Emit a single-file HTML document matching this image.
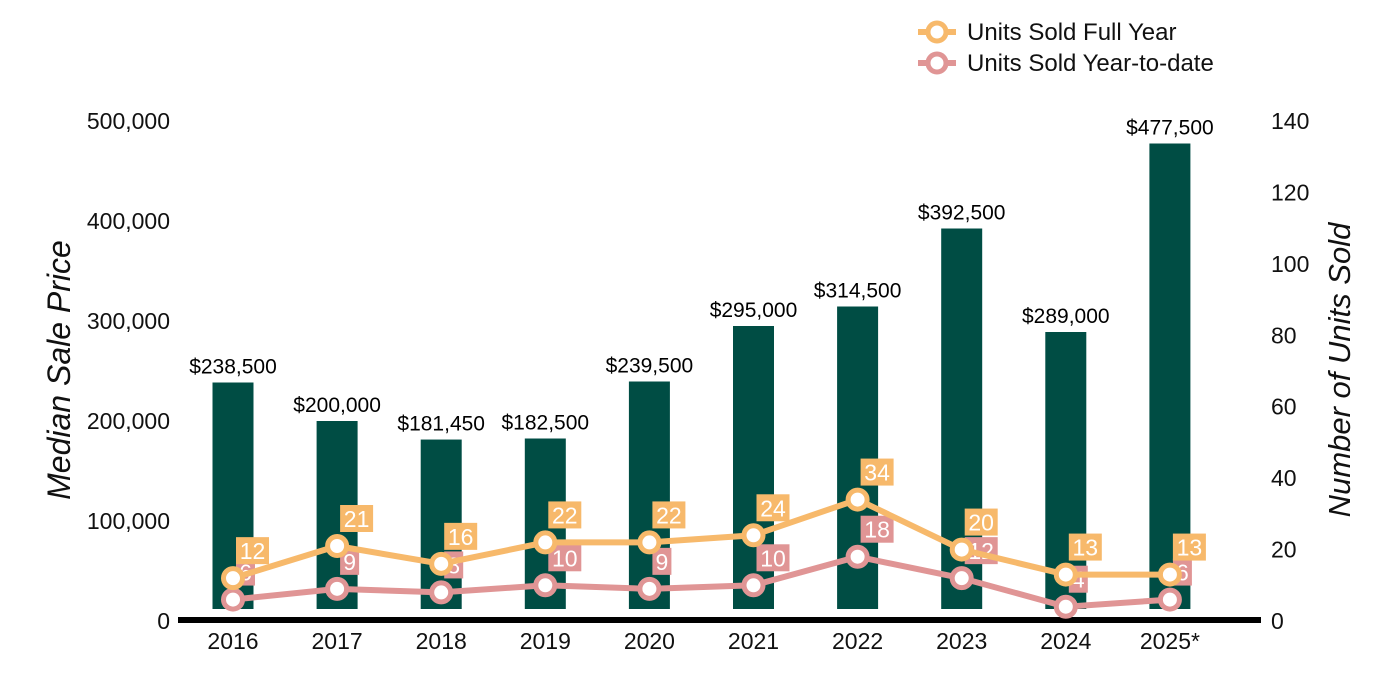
<!DOCTYPE html>
<html><head><meta charset="utf-8"><style>
html,body{margin:0;padding:0;background:#fff;}
svg{display:block;font-family:"Liberation Sans",Arial,sans-serif;}
</style></head><body>
<svg id="chart" width="1400" height="700">
<g id="legend">
 <g>
  <line x1="918" y1="32" x2="956" y2="32" stroke="#f7b96b" stroke-width="6"/>
  <circle cx="937" cy="32" r="9" fill="#fff" stroke="#f7b96b" stroke-width="5"/>
  <text x="967" y="40" font-size="24" fill="#111">Units Sold Full Year</text>
 </g>
 <g>
  <line x1="918" y1="63" x2="956" y2="63" stroke="#e09595" stroke-width="6"/>
  <circle cx="937" cy="63" r="9" fill="#fff" stroke="#e09595" stroke-width="5"/>
  <text x="967" y="71" font-size="24" fill="#111">Units Sold Year-to-date</text>
 </g>
</g>
<text transform="translate(70,370) rotate(-90)" text-anchor="middle" font-size="32" font-style="italic" fill="#111">Median Sale Price</text>
<text transform="translate(1350,370) rotate(-90)" text-anchor="middle" font-size="31" font-style="italic" fill="#111">Number of Units Sold</text>
<g id="g"></g>
</svg>
<script>
const categories=["2016","2017","2018","2019","2020","2021","2022","2023","2024","2025*"];
const prices=[238500,200000,181450,182500,239500,295000,314500,392500,289000,477500];
const unitsFull=[12,21,16,22,22,24,34,20,13,13];
const unitsYtd=[6,9,8,10,9,10,18,12,4,6];
const leftTicks=[0,100000,200000,300000,400000,500000];
const rightTicks=[0,20,40,60,80,100,120,140];
const NS="http://www.w3.org/2000/svg";
const g=document.getElementById('g');
const x0=233,step=104.1;
const xs=i=>x0+i*step;
const yL=v=>621-v/1000;
const yR=v=>621-v*500/140;
function el(t,a,txt){const e=document.createElementNS(NS,t);for(const k in a)e.setAttribute(k,a[k]);if(txt!==undefined)e.textContent=txt;g.appendChild(e);return e;}
leftTicks.forEach(v=>{const t=el('text',{x:170,y:yL(v)+8,'text-anchor':'end','font-size':23,fill:'#111'},v.toLocaleString('en-US'));

});
rightTicks.forEach(v=>{const t=el('text',{x:1271,y:yR(v)+8,'font-size':23,fill:'#111'},String(v));

});
prices.forEach((v,i)=>{const b=el('rect',{x:xs(i)-20.5,y:yL(v),width:41,height:609-yL(v),fill:'#004d44'});


const t=el('text',{x:xs(i),y:yL(v)-9,'text-anchor':'middle','font-size':21,fill:'#000'},'$'+v.toLocaleString('en-US'));

});
const ax=el('rect',{x:178,y:617,width:1083,height:6,fill:'#000'});


categories.forEach((c,i)=>{const t=el('text',{x:xs(i),y:649,'text-anchor':'middle','font-size':23,fill:'#111'},c);

});
function series(vals,color,name){
 const ln=el('polyline',{points:vals.map((v,i)=>xs(i)+','+yR(v)).join(' '),fill:'none',stroke:color,'stroke-width':6});
 
 
 vals.forEach((v,i)=>{const c=el('circle',{cx:xs(i),cy:yR(v),r:9.5,fill:'#fff',stroke:color,'stroke-width':5});
 
 });
}
function labels(vals,color,name){
 vals.forEach((v,i)=>{const s=String(v);const w=s.length>1?33:19;
 const r=el('rect',{x:xs(i)+3,y:yR(v)-41,width:w,height:27,fill:color});
 
 
 const t=el('text',{x:xs(i)+3+w/2,y:yR(v)-19,'text-anchor':'middle','font-size':23,fill:'#fff'},s);
 
 });
}
series(unitsYtd,'#e09595','ytd');
labels(unitsYtd,'#e09595','ytd');
series(unitsFull,'#f7b96b','full-year');
labels(unitsFull,'#f7b96b','full-year');
</script>
</body></html>
